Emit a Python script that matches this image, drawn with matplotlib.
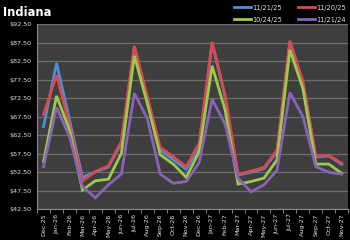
import matplotlib
matplotlib.use("Agg")
import matplotlib.pyplot as plt
from matplotlib.lines import Line2D

months = ["Dec-25", "Jan-26", "Feb-26", "Mar-26", "Apr-26", "May-26", "Jun-26", "Jul-26",
          "Aug-26", "Sep-26", "Oct-26", "Nov-26", "Dec-26", "Jan-27", "Feb-27", "Mar-27",
          "Apr-27", "May-27", "Jun-27", "Jul-27", "Aug-27", "Sep-27", "Oct-27", "Nov-27"]

s_112125 = [64.8, 82.0, 66.6, 51.1, 52.6, 53.9, 60.4, 86.3, 72.6, 58.5, 55.9, 53.3,
            59.0, 87.4, 72.9, 51.7, 52.5, 53.5, 58.0, 87.7, 76.7, 56.6, 56.9, 54.6]
s_112025 = [68.1, 78.7, 65.3, 50.1, 52.7, 54.2, 60.8, 86.6, 72.9, 59.2, 56.7, 54.0,
            60.3, 87.7, 73.3, 51.9, 52.8, 53.8, 58.4, 88.0, 77.0, 56.9, 57.1, 54.9]
s_102425 = [55.4, 73.1, 63.9, 47.7, 50.2, 50.6, 57.6, 83.9, 71.1, 57.2, 54.7, 51.1,
            58.0, 81.2, 69.3, 49.3, 50.0, 50.9, 55.8, 85.5, 75.1, 54.7, 54.7, 52.2]
s_112124 = [54.0, 70.0, 62.1, 48.6, 45.6, 49.1, 52.0, 73.8, 67.0, 52.0, 49.5, 50.0,
            55.1, 72.2, 65.5, 50.9, 47.2, 49.1, 53.0, 74.0, 67.5, 54.0, 52.5, 52.0]

series = [("11/21/25", s_112125, "#4F8FD6"),
          ("11/20/25", s_112025, "#D94A4E"),
          ("10/24/25", s_102425, "#9BCB48"),
          ("11/21/24", s_112124, "#8A63B8")]

yticks = [42.5, 47.5, 52.5, 57.5, 62.5, 67.5, 72.5, 77.5, 82.5, 87.5, 92.5]

fig = plt.figure(figsize=(3.5, 2.4), dpi=100, facecolor="black")
ax = fig.add_axes([0.106, 0.128, 0.889, 0.772])
ax.set_facecolor("#3E3E3E")

x = list(range(len(months)))
handles = {}
for name, vals, col in series:
    ax.plot(x, vals, color=col, lw=2.0, solid_joinstyle="miter", zorder=3)
    handles[name] = Line2D([], [], color=col, lw=2.0)

ax.set_xlim(-0.5, len(months) - 0.5)
ax.set_ylim(42.5, 92.5)
ax.set_yticks(yticks)
ax.set_yticklabels([f"${v:.2f}" for v in yticks], fontsize=4.6, color="#E0E0E0")
ax.yaxis.grid(True, color="#6E6E6E", lw=0.9, zorder=0)
ax.set_axisbelow(True)
ax.set_xticks(x)
ax.set_xticklabels(months, rotation=90, fontsize=4.6, color="#E0E0E0")
ax.set_xticks([i - 0.5 for i in range(len(months) + 1)], minor=True)
ax.tick_params(axis="x", which="major", length=0, pad=3)
ax.tick_params(axis="x", which="minor", length=3, color="#9A9A9A")
ax.tick_params(axis="y", length=0, pad=4)
for side in ["top", "right"]:
    ax.spines[side].set_visible(False)
ax.spines["left"].set_color("#8A8A8A")
ax.spines["bottom"].set_color("#8A8A8A")
ax.spines["left"].set_linewidth(0.8)
ax.spines["bottom"].set_linewidth(0.8)

fig.text(0.008, 0.948, "Indiana", fontsize=8.3, fontweight="bold", color="white",
         ha="left", va="center")

order = ["11/21/25", "10/24/25", "11/20/25", "11/21/24"]
leg = fig.legend([handles[n] for n in order], order, ncol=2, loc="upper right",
                 bbox_to_anchor=(1.005, 1.005), frameon=False, fontsize=4.8,
                 labelcolor="#E0E0E0", handlelength=2.6, handletextpad=0.1,
                 columnspacing=2.4, labelspacing=0.9)

fig.savefig("out.png", dpi=100, facecolor="black")
